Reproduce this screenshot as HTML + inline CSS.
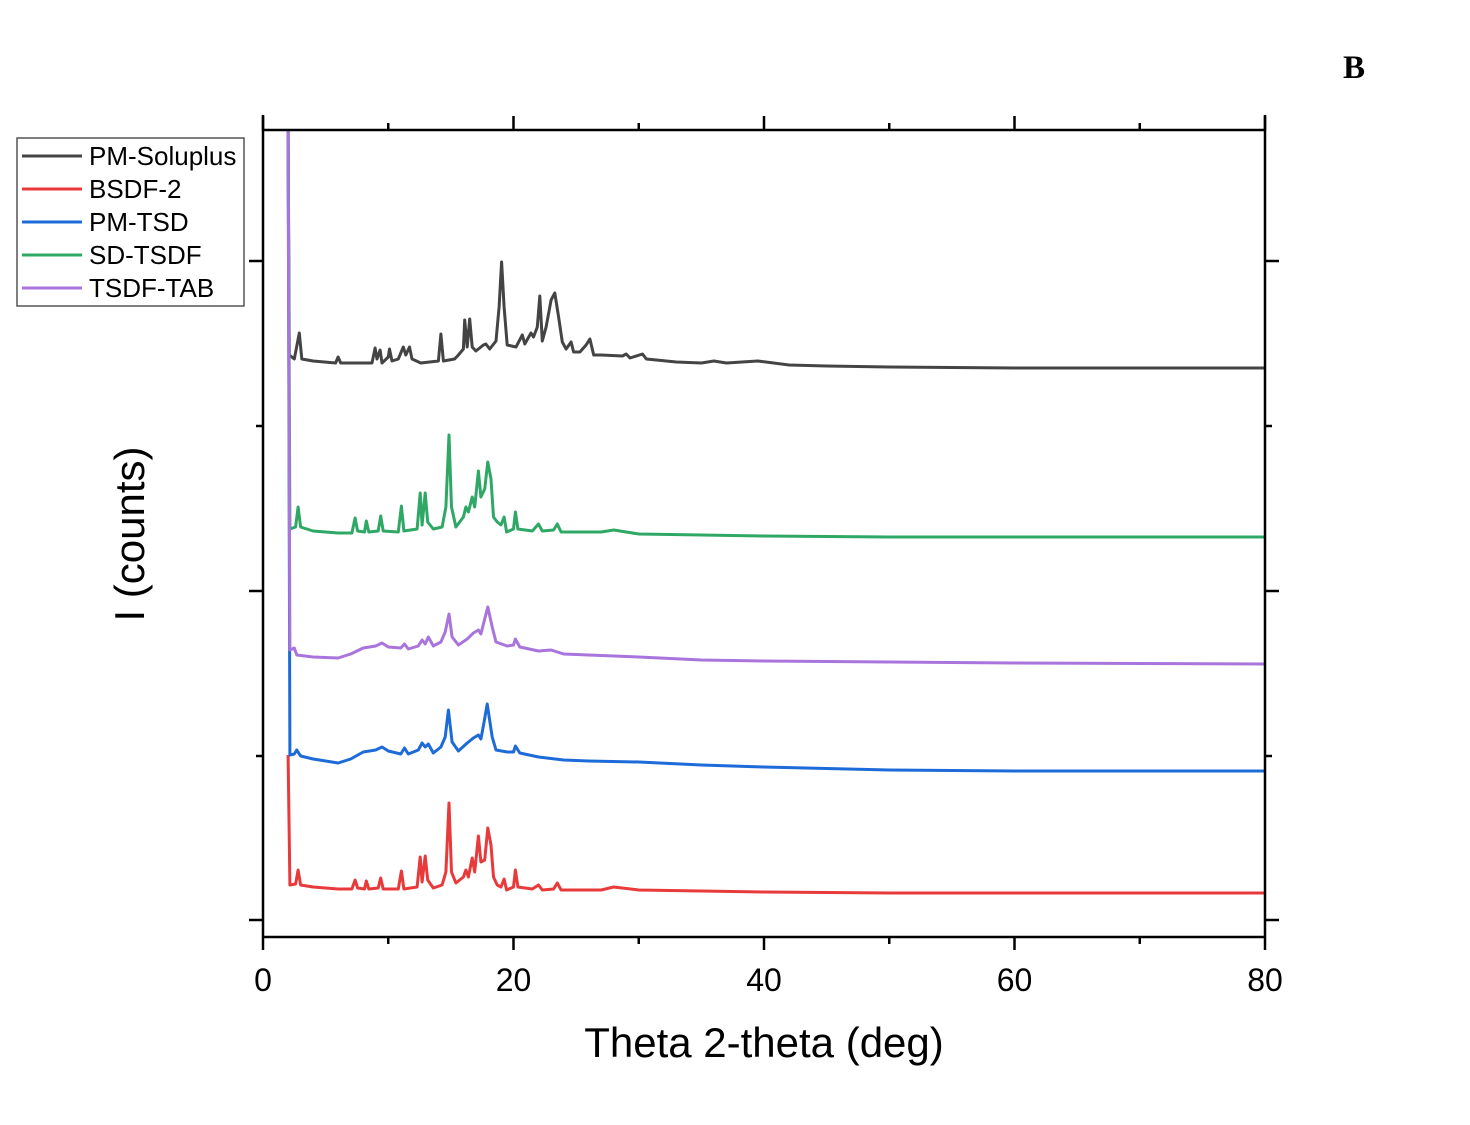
<!DOCTYPE html>
<html><head><meta charset="utf-8"><style>
body{margin:0;background:#fff;}
svg{display:block;font-family:"Liberation Sans",Arial,sans-serif;}
</style></head><body>
<svg id="chart" width="1470" height="1125" viewBox="0 0 1470 1125" xmlns="http://www.w3.org/2000/svg">
<rect width="1470" height="1125" fill="#fff"/>
<text x="1354" y="78" font-family="Liberation Serif,serif" font-weight="bold" font-size="33" text-anchor="middle">B</text>
<g id="series"></g>
<g id="axes"></g>
<text x="764" y="1057" font-size="42" text-anchor="middle">Theta 2-theta (deg)</text>
<text transform="translate(144,534) rotate(-90)" font-size="42" text-anchor="middle">I (counts)</text>
<g>
<rect x="17" y="138" width="227" height="168" fill="#fff" stroke="#555" stroke-width="1.5"/>
<g id="legend-items"></g>
</g>
</svg>
<script>
const xTicks=[0,20,40,60,80];
const xMinor=[10,30,50,70];
const seriesNames=["PM-Soluplus","BSDF-2","PM-TSD","SD-TSDF","TSDF-TAB"];
const seriesColors=["#444444","#e83a3a","#1c6bd9","#2fa866","#a974dc"];
const soluplus=[[2.0,807],[2.1,582],[2.5,578],[2.9,604],[3.1,578],[4,576],[5.8,574],[6.0,580],[6.2,574],[8.7,574],[8.95,589],[9.1,578],[9.35,587],[9.5,574],[10.0,580],[10.1,588],[10.3,576],[10.8,578],[11.2,590],[11.4,582],[11.7,590],[11.9,578],[12.6,574],[14.0,576],[14.2,603],[14.4,576],[15.3,578],[15.6,582],[16.0,588],[16.1,617],[16.3,590],[16.5,618],[16.7,590],[17.0,586],[17.6,592],[17.8,593],[18.1,588],[18.6,596],[18.85,630],[19.05,675],[19.25,630],[19.5,592],[20.2,590],[20.7,602],[20.9,593],[21.4,604],[21.6,600],[21.9,610],[22.1,641],[22.3,596],[22.6,610],[23.0,637],[23.3,644],[23.6,620],[23.9,595],[24.2,588],[24.6,595],[24.8,585],[25.3,585],[25.8,592],[26.1,598],[26.4,582],[27,582],[28.7,581],[29,583],[29.3,579],[30.3,583],[30.6,578],[33,575],[35,574],[36,576],[37,574],[39.5,576],[42,572],[45,571],[50,570],[60,569],[70,569],[80,569]];
const bsdf2=[[2.0,182],[2.15,52],[2.6,53],[2.8,67],[3.0,52],[4,50],[6,48],[7.1,48],[7.35,57],[7.55,49],[8.1,48],[8.25,56],[8.45,48],[9.2,49],[9.4,59],[9.6,48],[10.8,48],[11.05,66],[11.25,48],[12.3,50],[12.55,80],[12.7,55],[12.95,81],[13.15,57],[13.6,49],[14.3,52],[14.6,65],[14.85,134],[15.05,65],[15.4,54],[16.0,60],[16.2,67],[16.4,60],[16.7,79],[16.9,65],[17.2,101],[17.4,75],[17.7,77],[17.95,109],[18.2,92],[18.4,60],[18.7,52],[19.0,50],[19.25,58],[19.45,47],[20.0,50],[20.15,67],[20.35,50],[21.5,48],[22,52],[22.3,47],[23.2,48],[23.5,54],[23.8,47],[27,47],[28,50],[30,47],[35,46],[40,45],[50,44],[60,44],[80,44]];
const pmtsd=[[2.0,807],[2.15,182],[2.5,183],[2.7,187],[3.0,181],[4,178],[6,174],[7,178],[8,185],[9,187],[9.5,190],[10,186],[11,183],[11.3,189],[11.6,183],[12.4,187],[12.7,194],[12.95,190],[13.2,193],[13.6,184],[14.2,190],[14.55,200],[14.8,227],[15.1,195],[15.6,186],[16.3,194],[16.8,199],[17.2,202],[17.4,198],[17.65,215],[17.9,233],[18.3,200],[18.6,187],[19.5,185],[20.0,185],[20.15,191],[20.5,184],[22,180],[24,177],[26,176],[30,175],[35,172],[40,170],[50,167],[60,166],[80,166]];
const sdtsdf=[[2.0,807],[2.15,408],[2.6,410],[2.8,430],[3.0,410],[4,406],[6,404],[7.1,404],[7.35,419],[7.55,406],[8.1,405],[8.25,416],[8.45,405],[9.2,406],[9.4,421],[9.6,406],[10.8,405],[11.05,431],[11.25,406],[12.3,408],[12.55,444],[12.7,412],[12.95,444],[13.15,415],[13.6,408],[14.3,410],[14.6,430],[14.85,502],[15.05,430],[15.4,410],[16.0,420],[16.2,430],[16.4,425],[16.7,440],[16.9,430],[17.2,466],[17.4,440],[17.7,448],[17.95,475],[18.2,458],[18.4,420],[18.7,415],[19.0,412],[19.25,420],[19.45,405],[20.0,408],[20.15,425],[20.35,408],[21.5,406],[22.0,413],[22.3,406],[23.2,407],[23.5,413],[23.8,405],[27,405],[28,407],[30,403],[35,402],[40,401],[50,400],[60,400],[80,400]];
const tsdftab=[[2.0,807],[2.15,287],[2.5,289],[2.7,282],[4,280],[6,279],[7,283],[8,289],[9,291],[9.5,294],[10,290],[11,289],[11.3,293],[11.6,288],[12.4,291],[12.7,297],[12.95,293],[13.2,300],[13.6,291],[14.2,295],[14.55,305],[14.85,323],[15.1,300],[15.6,292],[16.3,298],[16.8,304],[17.2,307],[17.4,303],[17.7,318],[17.95,330],[18.3,310],[18.6,295],[19.5,291],[20.0,292],[20.15,298],[20.5,290],[22,286],[23,287],[24,283],[26,282],[30,280],[35,277],[40,276],[50,275],[60,274],[80,273]];
const allSeries=[soluplus,bsdf2,pmtsd,sdtsdf,tsdftab];

const X0=263,X1=1265,Y0=937,Y1=130;
function xs(v){return X0+(v-0)/(80-0)*(X1-X0);}
function ys(v){return Y0-(v-0)/(807-0)*(Y0-Y1);}
const NS="http://www.w3.org/2000/svg";
function mk(t,a,p){const e=document.createElementNS(NS,t);for(const k in a)e.setAttribute(k,a[k]);p.appendChild(e);return e;}
const sg=document.getElementById('series');
const drawOrder=[0,1,2,3,4];
drawOrder.forEach(i=>{
  const d=allSeries[i].map((p,j)=>(j?'L':'M')+xs(p[0]).toFixed(1)+','+ys(p[1]).toFixed(1)).join('');
  const el=mk('path',{d:d,fill:'none',stroke:seriesColors[i],'stroke-width':3,'stroke-linejoin':'round'},sg);
  
  
});
const ax=document.getElementById('axes');
const A={stroke:'#000','stroke-width':2.5,fill:'none'};
let e;
e=mk('line',Object.assign({x1:X0,y1:115,x2:X0,y2:Y0},A),ax);


e=mk('line',Object.assign({x1:X1,y1:115,x2:X1,y2:Y0},A),ax);


e=mk('line',Object.assign({x1:X0,y1:Y0,x2:X1,y2:Y0},A),ax);


e=mk('line',Object.assign({x1:X0,y1:Y1,x2:X1,y2:Y1},A),ax);


xTicks.forEach(v=>{
  const x=xs(v);
  mk('line',Object.assign({x1:x,y1:Y0,x2:x,y2:Y0+13},A),ax);
  mk('line',Object.assign({x1:x,y1:Y1,x2:x,y2:Y1-14},A),ax);
  const t=mk('text',{x:x,y:991,'font-size':32,'text-anchor':'middle'},ax);
  t.textContent=v;
  
  
});
xMinor.forEach(v=>{
  const x=xs(v);
  mk('line',Object.assign({x1:x,y1:Y0,x2:x,y2:Y0+7},A),ax);
  mk('line',Object.assign({x1:x,y1:Y1,x2:x,y2:Y1-7},A),ax);
});
[[261,14],[426,7],[591,14],[756,7],[920,14]].forEach(([y,l])=>{
  mk('line',Object.assign({x1:X0-l,y1:y,x2:X0,y2:y},A),ax);
  mk('line',Object.assign({x1:X1,y1:y,x2:X1+l,y2:y},A),ax);
});
const lg=document.getElementById('legend-items');
seriesNames.forEach((n,i)=>{
  const y=156+i*33;
  const l=mk('line',{x1:22,y1:y,x2:82,y2:y,stroke:seriesColors[i],'stroke-width':3},lg);
  
  
  const t=mk('text',{x:89,y:y+9,'font-size':26},lg);
  t.textContent=n;
  
  
});
</script>
</body></html>
